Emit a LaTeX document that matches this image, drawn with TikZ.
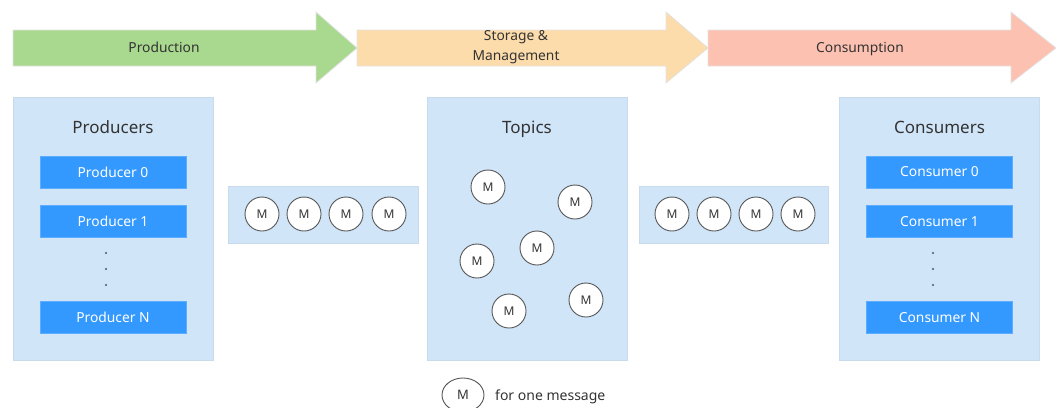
\documentclass[tikz,border=0pt]{standalone}
\usepackage{fontspec}
\setmainfont{Noto Sans}
\usetikzlibrary{shapes.geometric}
\definecolor{pgreen}{HTML}{A9D98F}
\definecolor{porange}{HTML}{FDDCAB}
\definecolor{ppink}{HTML}{FDC1B1}
\definecolor{arrline}{HTML}{E2E2E2}
\definecolor{panel}{HTML}{D1E5F8}
\definecolor{panelline}{HTML}{C9DAEC}
\definecolor{bluebox}{HTML}{3399FF}
\definecolor{txt}{HTML}{333333}
\definecolor{circline}{HTML}{555555}
\tikzset{
  stagearrow/.style={draw=arrline, line width=0.8pt},
  stagelabel/.style={font=\fontsize{13.8}{20}\selectfont, text=txt, align=center, inner sep=0pt},
  panelbox/.style={draw=panelline, fill=panel, line width=0.8pt},
  paneltitle/.style={font=\fontsize{17}{20}\selectfont, text=txt, inner sep=0pt, anchor=base},
  rolebox/.style={draw=bluebox!80!white, fill=bluebox, line width=0.6pt, text=white,
    font=\fontsize{13.8}{16}\selectfont, minimum width=146pt, minimum height=32pt, inner sep=0pt},
  msg/.style={circle, draw=circline, fill=white, line width=0.9pt, minimum size=34pt,
    inner sep=0pt, font=\fontsize{12}{14}\selectfont, text=txt},
  vdot/.style={circle, fill=circline, inner sep=0pt, minimum size=2.2pt},
}
\begin{document}
\begin{tikzpicture}[x=1pt, y=-1pt]
\useasboundingbox (0,0) rectangle (1060,407);
% stage arrows
\draw[stagearrow, fill=pgreen] (13,30) -- (316,30) -- (316,12) -- (357,48) -- (316,83) -- (316,66) -- (13,66) -- cycle;
\draw[stagearrow, fill=porange] (357,30) -- (666,30) -- (666,12) -- (708,48) -- (666,83) -- (666,66) -- (357,66) -- cycle;
\draw[stagearrow, fill=ppink] (708,30) -- (1011,30) -- (1011,12) -- (1056,48) -- (1011,83) -- (1011,66) -- (708,66) -- cycle;
\node[stagelabel, anchor=base] (production) at (164,52.5) {Production};
\node[stagelabel] (storage) at (516,47.5) {Storage \&\\Management};
\node[stagelabel, anchor=base] (consumption) at (860,52.5) {Consumption};

% producers panel
\node[panelbox, minimum width=200pt, minimum height=263pt, inner sep=0pt] (producers) at (113,228.5) {};
\node[paneltitle] (prodtitle) at (113,133) {Producers};
\node[rolebox] (p0) at (113,172) {Producer 0};
\node[rolebox] (p1) at (113,221.5) {Producer 1};
\node[vdot] (pd1) at (106,253) {};
\node[vdot] (pd2) at (106,269) {};
\node[vdot] (pd3) at (106,285) {};
\node[rolebox] (pn) at (113,317.5) {Producer N};

% left message queue
\node[panelbox, minimum width=190pt, minimum height=57pt, inner sep=0pt] (lq) at (323,214.5) {};
\node[msg] (lm1) at (262,214) {M};
\node[msg] (lm2) at (304,214) {M};
\node[msg] (lm3) at (346,214) {M};
\node[msg] (lm4) at (389,214) {M};

% topics panel
\node[panelbox, minimum width=200pt, minimum height=263pt, inner sep=0pt] (topics) at (527,228.5) {};
\node[paneltitle] (toptitle) at (527,133) {Topics};
\node[msg] (tm1) at (488,187) {M};
\node[msg] (tm2) at (575,202) {M};
\node[msg] (tm3) at (537,248) {M};
\node[msg] (tm4) at (477,261) {M};
\node[msg] (tm5) at (509,311) {M};
\node[msg] (tm6) at (586,300) {M};

% right message queue
\node[panelbox, minimum width=189pt, minimum height=57pt, inner sep=0pt] (rq) at (733.5,214.5) {};
\node[msg] (rm1) at (672,214) {M};
\node[msg] (rm2) at (714,214) {M};
\node[msg] (rm3) at (756,214) {M};
\node[msg] (rm4) at (798,214) {M};

% consumers panel
\node[panelbox, minimum width=200pt, minimum height=263pt, inner sep=0pt] (consumers) at (939.5,228.5) {};
\node[paneltitle] (constitle) at (939.5,133) {Consumers};
\node[rolebox] (c0) at (939.5,172) {Consumer 0};
\node[rolebox] (c1) at (939.5,221.5) {Consumer 1};
\node[vdot] (cd1) at (933,253) {};
\node[vdot] (cd2) at (933,269) {};
\node[vdot] (cd3) at (933,285) {};
\node[rolebox] (cn) at (939.5,317.5) {Consumer N};

% legend
\node[ellipse, draw=circline, fill=white, line width=0.9pt, minimum width=42pt, minimum height=34pt,
  inner sep=0pt, font=\fontsize{13}{15}\selectfont, text=txt] (legm) at (463,395) {M};
\node[anchor=base west, inner sep=0pt, font=\fontsize{14}{16}\selectfont, text=txt] (legtext) at (495,400) {for one message};
\end{tikzpicture}
\end{document}
